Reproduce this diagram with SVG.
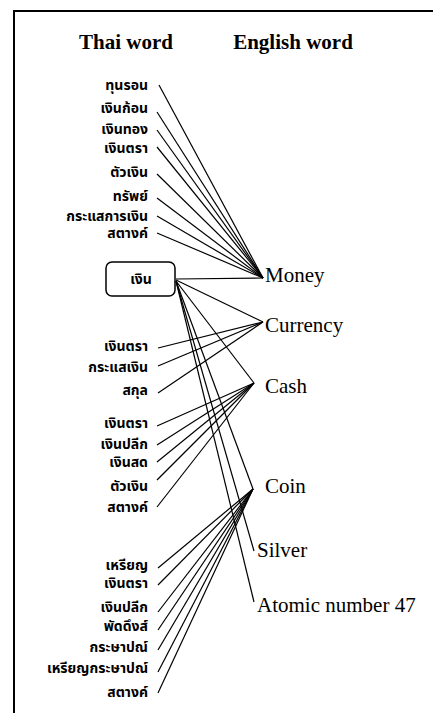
<svg xmlns="http://www.w3.org/2000/svg" width="433" height="713" viewBox="0 0 433 713">
<style>
.frame{fill:none;stroke:#000;stroke-width:2}
.hd{font-family:"Liberation Serif",serif;font-size:21px;font-weight:bold;text-anchor:middle}
.th{font-family:"Noto Sans Thai","Noto Sans","DejaVu Sans",sans-serif;font-size:14px;font-weight:bold;text-anchor:end}
.en{font-family:"Liberation Serif",serif;font-size:21px}
.box{fill:#fff;stroke:#000;stroke-width:1.5}
#connectors line{stroke:#000;stroke-width:1.2}
</style>
<rect class="frame" x="14" y="11" width="440" height="720"/>
<text class="hd" x="126" y="49">Thai word</text>
<text class="hd" x="293" y="49">English word</text>
<g id="connectors">
<line x1="159" y1="85" x2="263" y2="278"/>
<line x1="157" y1="112" x2="263" y2="278"/>
<line x1="157" y1="130" x2="263" y2="278"/>
<line x1="157" y1="147" x2="263" y2="278"/>
<line x1="157" y1="174" x2="263" y2="278"/>
<line x1="157" y1="198" x2="263" y2="278"/>
<line x1="157" y1="216" x2="263" y2="278"/>
<line x1="157" y1="233" x2="263" y2="278"/>
<line x1="176" y1="279" x2="263" y2="278"/>
<line x1="176" y1="280" x2="263" y2="322"/>
<line x1="176" y1="281" x2="254" y2="383"/>
<line x1="176" y1="281" x2="253" y2="489"/>
<line x1="176" y1="281" x2="254" y2="551"/>
<line x1="176" y1="281" x2="254" y2="602"/>
<line x1="158" y1="348" x2="263" y2="322"/>
<line x1="158" y1="366" x2="263" y2="322"/>
<line x1="158" y1="393" x2="263" y2="322"/>
<line x1="157" y1="426" x2="254" y2="383"/>
<line x1="157" y1="445" x2="254" y2="383"/>
<line x1="157" y1="462" x2="254" y2="383"/>
<line x1="157" y1="480" x2="254" y2="383"/>
<line x1="157" y1="507" x2="254" y2="383"/>
<line x1="158" y1="568" x2="253" y2="489"/>
<line x1="158" y1="585" x2="253" y2="489"/>
<line x1="158" y1="612" x2="253" y2="489"/>
<line x1="158" y1="630" x2="253" y2="489"/>
<line x1="158" y1="650" x2="253" y2="489"/>
<line x1="158" y1="672" x2="253" y2="489"/>
<line x1="158" y1="693" x2="253" y2="489"/>
</g>
<g id="root-ngern">
<rect class="box" x="106" y="262" width="69" height="34" rx="6"/>
<text class="th" x="141" y="284" style="text-anchor:middle">เงิน</text>
</g>
<g id="thai-top">
<text class="th" x="148" y="90">ทุนรอน</text>
<text class="th" x="148" y="113">เงินก้อน</text>
<text class="th" x="148" y="134">เงินทอง</text>
<text class="th" x="148" y="153">เงินตรา</text>
<text class="th" x="148" y="177">ตัวเงิน</text>
<text class="th" x="148" y="201">ทรัพย์</text>
<text class="th" x="148" y="221">กระแสการเงิน</text>
<text class="th" x="148" y="238">สตางค์</text>
</g>
<g id="thai-currency">
<text class="th" x="148" y="351">เงินตรา</text>
<text class="th" x="148" y="372">กระแสเงิน</text>
<text class="th" x="148" y="395">สกุล</text>
</g>
<g id="thai-cash">
<text class="th" x="148" y="428">เงินตรา</text>
<text class="th" x="148" y="449">เงินปลีก</text>
<text class="th" x="148" y="467">เงินสด</text>
<text class="th" x="148" y="491">ตัวเงิน</text>
<text class="th" x="148" y="512">สตางค์</text>
</g>
<g id="thai-coin">
<text class="th" x="148" y="570">เหรียญ</text>
<text class="th" x="148" y="588">เงินตรา</text>
<text class="th" x="148" y="612">เงินปลีก</text>
<text class="th" x="148" y="631">พัดดึงส์</text>
<text class="th" x="148" y="652">กระษาปณ์</text>
<text class="th" x="148" y="673">เหรียญกระษาปณ์</text>
<text class="th" x="148" y="697">สตางค์</text>
</g>
<g id="en-money"><text class="en" x="265" y="282">Money</text></g>
<g id="en-currency"><text class="en" x="265" y="332">Currency</text></g>
<g id="en-cash"><text class="en" x="265" y="393">Cash</text></g>
<g id="en-coin"><text class="en" x="265" y="493">Coin</text></g>
<g id="en-silver"><text class="en" x="257" y="557">Silver</text></g>
<g id="en-atomic"><text class="en" x="257" y="612">Atomic number 47</text></g>
</svg>
